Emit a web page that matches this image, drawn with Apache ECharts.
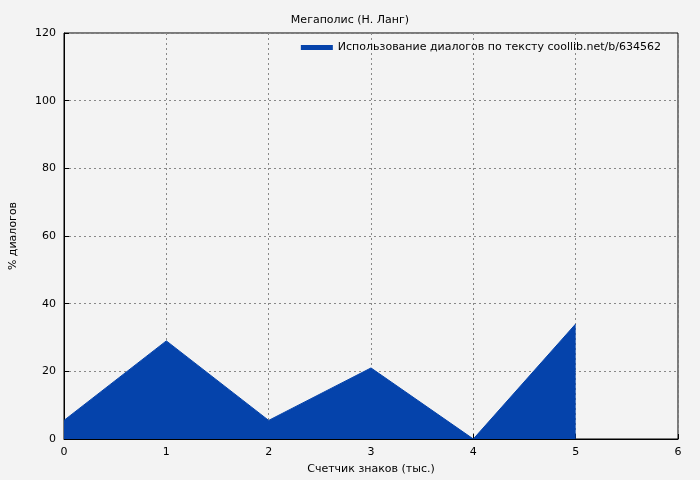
<!DOCTYPE html><html><head><meta charset="utf-8">
<script src="https://cdn.jsdelivr.net/npm/echarts@6/dist/echarts.min.js"></script>
<style>body{margin:0;background:#f3f3f3}#c{width:700px;height:480px}</style></head><body><div id="c"></div>
<script>
const xValues=[0,1,2,3,4,5];
const yValues=[5.5,29,5.5,21,0,34];
const title="Мегаполис (Н. Ланг)";
const seriesName="Использование диалогов по тексту coollib.net/b/634562";
const c=echarts.init(document.getElementById('c'));
const f="DejaVu Sans";
c.setOption({backgroundColor:'#f3f3f3',animation:false,
title:{text:title,left:'center',top:10,textStyle:{fontSize:11,fontWeight:'normal',color:'#000',fontFamily:f}},
legend:{right:34,top:37,itemWidth:32,itemHeight:5,icon:'rect',itemGap:6,textStyle:{fontSize:11,color:'#000',fontFamily:f},data:[{name:seriesName,itemStyle:{color:'#0543ab'}}]},
grid:{left:60,right:22,top:33,bottom:41,show:true,borderColor:'#000',borderWidth:1,backgroundColor:'transparent'},
xAxis:{type:'value',min:0,max:6,interval:1,name:'Счетчик знаков (тыс.)',nameLocation:'middle',nameGap:25,nameTextStyle:{fontSize:11,color:'#000',fontFamily:f},
axisLine:{lineStyle:{color:'#000'}},axisTick:{inside:true,lineStyle:{color:'#000'}},axisLabel:{fontSize:11,color:'#000',fontFamily:f},
splitLine:{lineStyle:{color:'#888',type:[2,3]}}},
yAxis:{type:'value',min:0,max:120,interval:20,name:'% диалогов',nameLocation:'middle',nameGap:45,nameTextStyle:{fontSize:11,color:'#000',fontFamily:f},
axisLine:{show:true,lineStyle:{color:'#000'}},axisTick:{show:true,inside:true,lineStyle:{color:'#000'}},axisLabel:{fontSize:11,color:'#000',fontFamily:f},
splitLine:{lineStyle:{color:'#888',type:[2,3]}}},
series:[{name:seriesName,type:'line',data:xValues.map((x,i)=>[x,yValues[i]]),symbol:'none',lineStyle:{width:1,color:'#0543ab'},itemStyle:{color:'#0543ab'},areaStyle:{color:'#0543ab',opacity:1},z:1}]
});
</script></body></html>
